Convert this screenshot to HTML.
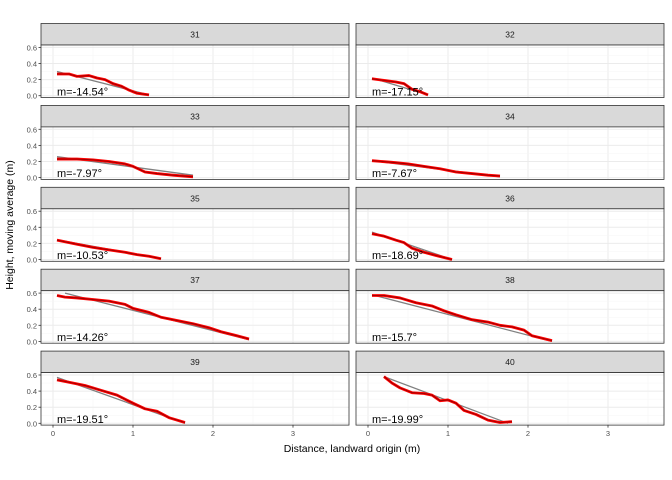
<!DOCTYPE html>
<html><head><meta charset="utf-8"><style>
body{margin:0;background:#fff;}
svg{display:block;font-family:"Liberation Sans",sans-serif;}
</style></head><body>
<svg id="chart" width="672" height="480"></svg>
<script>
const facetIds=["31","32","33","34","35","36","37","38","39","40"];
const slopeLabels=["m=-14.54°","m=-17.15°","m=-7.97°","m=-7.67°","m=-10.53°","m=-18.69°","m=-14.26°","m=-15.7°","m=-19.51°","m=-19.99°"];
const xTicks=[0,1,2,3];
const yTicks=[0,0.2,0.4,0.6];
const yTickLabels=["0.0","0.2","0.4","0.6"];
const movX=[
[0.05,0.2,0.3,0.45,0.55,0.65,0.75,0.85,0.95,1.05,1.2],
[0.05,0.2,0.35,0.45,0.55,0.65,0.75],
[0.05,0.3,0.5,0.7,0.9,1.0,1.15,1.3,1.5,1.75],
[0.05,0.3,0.5,0.7,0.9,1.1,1.3,1.5,1.65],
[0.05,0.3,0.5,0.7,0.9,1.05,1.2,1.35],
[0.05,0.2,0.35,0.45,0.55,0.7,0.85,1.05],
[0.05,0.15,0.3,0.5,0.7,0.9,1.0,1.2,1.35,1.55,1.75,1.95,2.1,2.3,2.45],
[0.05,0.2,0.4,0.6,0.8,0.95,1.1,1.3,1.5,1.65,1.8,1.95,2.05,2.3],
[0.05,0.2,0.4,0.6,0.8,1.0,1.15,1.3,1.45,1.65],
[0.2,0.3,0.4,0.55,0.7,0.8,0.9,1.0,1.1,1.2,1.35,1.5,1.65,1.8]];
const movY=[
[0.27,0.27,0.24,0.25,0.22,0.2,0.15,0.12,0.07,0.03,0.01],
[0.21,0.19,0.17,0.15,0.08,0.05,0.01],
[0.23,0.23,0.22,0.2,0.17,0.14,0.07,0.05,0.03,0.01],
[0.21,0.19,0.17,0.14,0.11,0.07,0.05,0.03,0.02],
[0.24,0.19,0.15,0.12,0.09,0.06,0.04,0.01],
[0.32,0.29,0.24,0.21,0.14,0.09,0.05,0.0],
[0.57,0.55,0.54,0.52,0.5,0.46,0.41,0.36,0.3,0.26,0.22,0.17,0.12,0.07,0.03],
[0.57,0.57,0.54,0.48,0.44,0.38,0.33,0.27,0.24,0.2,0.18,0.14,0.07,0.01],
[0.54,0.51,0.47,0.41,0.35,0.25,0.18,0.15,0.07,0.01],
[0.58,0.5,0.44,0.38,0.37,0.35,0.28,0.29,0.25,0.16,0.11,0.04,0.01,0.02]];
const fitX=[[0.05,1.2],[0.05,0.75],[0.05,1.75],[0.05,1.65],[0.05,1.35],[0.05,1.05],[0.15,2.45],[0.05,2.3],[0.05,1.65],[0.2,1.75]];
const fitY=[[0.3,0.01],[0.22,0.01],[0.26,0.03],[0.21,0.01],[0.245,0.01],[0.34,0.0],[0.6,0.02],[0.58,0.0],[0.57,0.0],[0.58,0.0]];

const NS="http://www.w3.org/2000/svg";
const svg=document.getElementById('chart');
function mk(tag,attrs,parent){const e=document.createElementNS(NS,tag);for(const k in attrs)e.setAttribute(k,attrs[k]);(parent||svg).appendChild(e);return e;}
const colL=[41,349],colR=[356,664];
const stripH=21.5,panelH=52.5,rowPitch=81.9,firstStrip=23.5;
const xMin=-0.15,xMax=3.7;
for(let i=0;i<facetIds.length;i++){
  const r=Math.floor(i/2),c=i%2;
  const [L,R]=c?colR:colL;
  const st=firstStrip+r*rowPitch, pt=st+stripH, pb=pt+panelH;
  const xs=v=>L+(v-xMin)/(xMax-xMin)*(R-L);
  const ys=v=>pb-1.8-v*80.5;
  const g=mk('g',{});
  
  
  const strip=mk('rect',{x:L,y:st,width:R-L,height:stripH,fill:'#d9d9d9',stroke:'#333','stroke-width':0.8},g);
  
  
  const stt=mk('text',{x:(L+R)/2,y:st+14,'text-anchor':'middle','font-size':8.5,fill:'#1a1a1a'},g);
  stt.textContent=facetIds[i];
  
  
  mk('rect',{x:L,y:pt,width:R-L,height:panelH,fill:'#fff'},g);
  for(let v=-0.5;v<=3.5;v+=0.5){ if(v<xMin||v>xMax)continue;
    const major=Math.abs(v-Math.round(v))<1e-6;
    mk('line',{x1:xs(v),x2:xs(v),y1:pt,y2:pb,stroke:major?'#ebebeb':'#f5f5f5','stroke-width':major?1:0.5},g);}
  for(let v=0;v<=0.7;v+=0.1){const y=ys(v); if(y<pt)continue;
    const major=Math.round(v*10)%2===0;
    mk('line',{x1:L,x2:R,y1:y,y2:y,stroke:major?'#ebebeb':'#f5f5f5','stroke-width':major?1:0.5},g);}
  const fit=mk('polyline',{points:fitX[i].map((x,k)=>xs(x)+','+ys(fitY[i][k])).join(' '),fill:'none',stroke:'#808080','stroke-width':1.3},g);
  
  
  const pts=movX[i].map((x,k)=>xs(x)+','+ys(movY[i][k])).join(' ');
  const mv=mk('polyline',{points:pts,fill:'none',stroke:'#ff0000','stroke-width':2.8,'stroke-linejoin':'round'},g);
  
  
  const mv2=mk('polyline',{points:pts,fill:'none',stroke:'#8b0000','stroke-width':0.8,'stroke-linejoin':'round'},g);
  
  
  const lab=mk('text',{x:xs(0.05),y:ys(0.005),'font-size':11,fill:'#000'},g);
  lab.textContent=slopeLabels[i];
  
  
  mk('rect',{x:L,y:pt,width:R-L,height:panelH,fill:'none',stroke:'#333','stroke-width':0.8},g);
  if(c===0){
    yTicks.forEach((v,k)=>{const y=ys(v);
      mk('line',{x1:L-2.5,x2:L,y1:y,y2:y,stroke:'#333','stroke-width':0.8},g);
      const t=mk('text',{x:L-4,y:y+3,'text-anchor':'end','font-size':7.5,fill:'#4d4d4d'},g);
      t.textContent=yTickLabels[k];
      
      });
  }
  if(r===4){
    xTicks.forEach(v=>{const x=xs(v);
      mk('line',{x1:x,x2:x,y1:pb,y2:pb+2.5,stroke:'#333','stroke-width':0.8},g);
      const t=mk('text',{x:x,y:pb+11,'text-anchor':'middle','font-size':7.5,fill:'#4d4d4d'},g);
      t.textContent=String(v);
      
      });
  }
}
const xt=mk('text',{x:352,y:452,'text-anchor':'middle','font-size':10.5,fill:'#000'});
xt.textContent='Distance, landward origin (m)';


const yt=mk('text',{x:0,y:0,'text-anchor':'middle','font-size':10.5,fill:'#000',transform:'translate(13,225) rotate(-90)'});
yt.textContent='Height, moving average (m)';


</script>
</body></html>
